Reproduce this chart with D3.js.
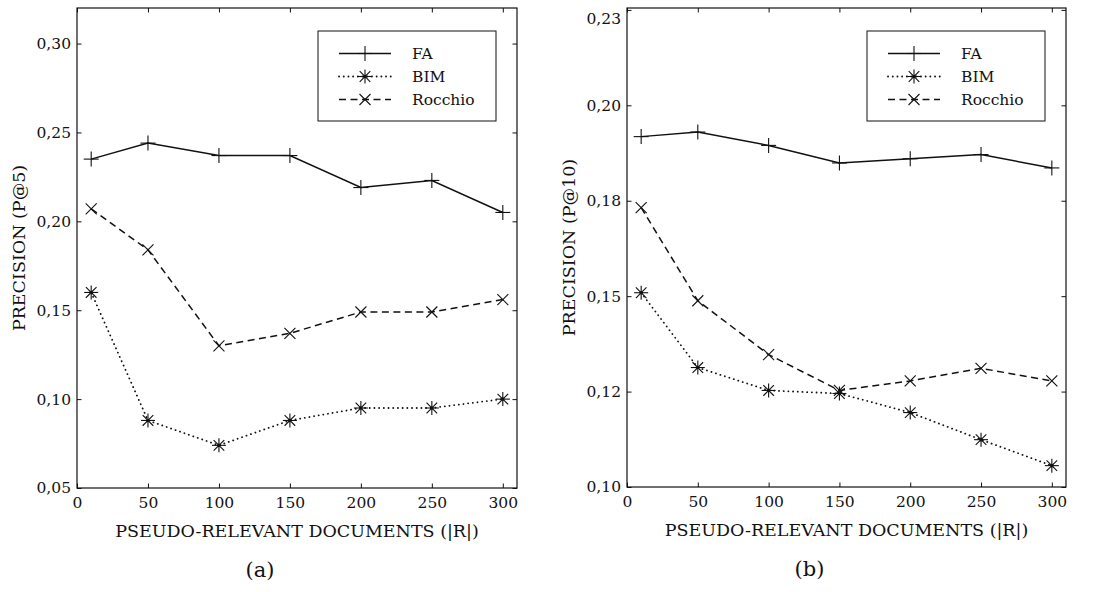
<!DOCTYPE html>
<html>
<head>
<meta charset="utf-8">
<script src="https://cdn.jsdelivr.net/npm/d3@7"></script>
<style>
  html, body { margin: 0; padding: 0; background: #fff; }
  svg { display: block; }
  text { font-family: "DejaVu Serif", serif; fill: #111; }
</style>
</head>
<body>
<svg id="chart" width="1101" height="592"></svg>
<script>
// ---- data ----
const xValues = [10, 50, 100, 150, 200, 250, 300];
const xTicks = [0, 50, 100, 150, 200, 250, 300];
const seriesNames = ["FA", "BIM", "Rocchio"];

const p5FA      = [0.235, 0.244, 0.237, 0.237, 0.219, 0.223, 0.205];
const p5BIM     = [0.160, 0.088, 0.074, 0.088, 0.095, 0.095, 0.100];
const p5Rocchio = [0.207, 0.184, 0.130, 0.137, 0.149, 0.149, 0.156];

const p10FA      = [0.1918, 0.1930, 0.1895, 0.1849, 0.1860, 0.1871, 0.1836];
const p10BIM     = [0.1509, 0.1313, 0.1253, 0.1245, 0.1195, 0.1124, 0.1056];
const p10Rocchio = [0.1732, 0.1488, 0.1347, 0.1253, 0.1278, 0.1311, 0.1278];

const p5Ticks = [0.05, 0.10, 0.15, 0.20, 0.25, 0.30];
const p5TickLabels = ["0,05", "0,10", "0,15", "0,20", "0,25", "0,30"];
const p10Ticks = [0.100, 0.125, 0.150, 0.175, 0.200, 0.225];
const p10TickLabels = ["0,10", "0,12", "0,15", "0,18", "0,20", "0,23"];

const xLabel = "PSEUDO-RELEVANT DOCUMENTS (|R|)";
const yLabels = ["PRECISION (P@5)", "PRECISION (P@10)"];
const panelLabels = ["(a)", "(b)"];

// ---- layout ----
const svg = d3.select("#chart");
const panels = [
  { left: 77, right: 517, top: 8, bottom: 488, yDomain: [0.05, 0.32],
    ticks: p5Ticks, tickLabels: p5TickLabels,
    series: [p5FA, p5BIM, p5Rocchio], yLabel: yLabels[0], tag: panelLabels[0] },
  { left: 627, right: 1066, top: 8, bottom: 487, yDomain: [0.10, 0.2255],
    ticks: p10Ticks, tickLabels: p10TickLabels,
    series: [p10FA, p10BIM, p10Rocchio], yLabel: yLabels[1], tag: panelLabels[1] }
];

const styles = [
  { dash: null, marker: "plus" },
  { dash: "0.1,4.6", marker: "aster" },
  { dash: "7,4.5", marker: "cross" }
];

function drawMarker(g, type, x, y) {
  const m = g.append("g").attr("transform", `translate(${x},${y})`)
    .attr("stroke", "#111").attr("stroke-width", 1.1).attr("fill", "none");
  if (type === "plus") {
    m.append("line").attr("x1", -7.5).attr("x2", 7.5).attr("y1", 0).attr("y2", 0);
    m.append("line").attr("x1", 0).attr("x2", 0).attr("y1", -7.5).attr("y2", 7.5);
  } else if (type === "cross") {
    const s = 5.5;
    m.append("line").attr("x1", -s).attr("x2", s).attr("y1", -s).attr("y2", s);
    m.append("line").attr("x1", -s).attr("x2", s).attr("y1", s).attr("y2", -s);
  } else {
    const s = 5.3, r = 7;
    m.append("line").attr("x1", -s).attr("x2", s).attr("y1", -s).attr("y2", s);
    m.append("line").attr("x1", -s).attr("x2", s).attr("y1", s).attr("y2", -s);
    m.append("line").attr("x1", -r).attr("x2", r).attr("y1", 0).attr("y2", 0);
    m.append("line").attr("x1", 0).attr("x2", 0).attr("y1", -r).attr("y2", r);
    m.append("circle").attr("r", 1.8).attr("fill", "#111").attr("stroke", "none");
  }
}

panels.forEach(p => {
  const x = d3.scaleLinear().domain([0, 310]).range([p.left, p.right]);
  const y = d3.scaleLinear().domain(p.yDomain).range([p.bottom, p.top]);
  const g = svg.append("g");

  // series lines
  p.series.forEach((vals, i) => {
    const pts = xValues.map((xv, j) => [x(xv), y(vals[j])]);
    const path = g.append("path")
      .attr("d", d3.line()(pts))
      .attr("fill", "none").attr("stroke", "#111")
      .attr("stroke-width", 1.5);
    if (styles[i].dash) {
      path.attr("stroke-dasharray", styles[i].dash);
      if (i === 1) path.attr("stroke-linecap", "round").attr("stroke-width", 1.8);
    }
    pts.forEach(pt => drawMarker(g, styles[i].marker, pt[0], pt[1]));
  });

  // axes (inward ticks on all sides)
  const tl = 4.5;
  const axB = d3.axisBottom(x).tickValues(xTicks).tickSize(-tl).tickPadding(9).tickFormat(d3.format("d"));
  const axT = d3.axisTop(x).tickValues(xTicks).tickSize(-tl).tickFormat("");
  const labelMap = new Map(p.ticks.map((t, i) => [t, p.tickLabels[i]]));
  const axL = d3.axisLeft(y).tickValues(p.ticks).tickSize(-tl).tickPadding(6).tickFormat(d => labelMap.get(d));
  const axR = d3.axisRight(y).tickValues(p.ticks).tickSize(-tl).tickFormat("");

  const gB = g.append("g").attr("transform", `translate(0,${p.bottom})`).call(axB);
  const gT = g.append("g").attr("transform", `translate(0,${p.top})`).call(axT);
  const gL = g.append("g").attr("transform", `translate(${p.left},0)`).call(axL);
  const gR = g.append("g").attr("transform", `translate(${p.right},0)`).call(axR);
  [gB, gT, gL, gR].forEach(a => {
    a.selectAll(".domain").remove();
    a.selectAll(".tick line").attr("stroke", "#111").attr("stroke-width", 1);
    a.selectAll("text").style("font-family", "DejaVu Serif").style("font-size", "15.5px").attr("fill", "#111");
  });
  // top tick label sits a little lower (as in the reference)
  gL.selectAll(".tick text").filter(d => d === p.ticks[p.ticks.length - 1] && p.yDomain[1] - d < 0.002).attr("dy", "0.85em");

  // frame
  g.append("rect").attr("x", p.left).attr("y", p.top)
    .attr("width", p.right - p.left).attr("height", p.bottom - p.top)
    .attr("fill", "none").attr("stroke", "#111").attr("stroke-width", 1.2);

  // axis titles
  const cx = (p.left + p.right) / 2;
  g.append("text").attr("x", cx).attr("y", p.bottom + 49)
    .attr("text-anchor", "middle").style("font-size", "17.5px").text(xLabel);
  g.append("text")
    .attr("transform", `translate(${p.left - 52},${(p.top + p.bottom) / 2}) rotate(-90)`)
    .attr("text-anchor", "middle").style("font-size", "17.5px").text(p.yLabel);
  g.append("text").attr("x", cx - 37).attr("y", p.bottom + 89)
    .attr("text-anchor", "middle").style("font-size", "21px").text(p.tag);

  // legend
  const lx = p.right - 199, ly = p.top + 23;
  const lg = g.append("g");
  lg.append("rect").attr("x", lx).attr("y", ly).attr("width", 178).attr("height", 90)
    .attr("fill", "#fff").attr("stroke", "#111").attr("stroke-width", 1);
  seriesNames.forEach((name, i) => {
    const ry = ly + 22.5 + i * 23;
    const ln = lg.append("line").attr("x1", lx + 21).attr("x2", lx + 73)
      .attr("y1", ry).attr("y2", ry).attr("stroke", "#111").attr("stroke-width", 1.5);
    if (styles[i].dash) {
      ln.attr("stroke-dasharray", styles[i].dash);
      if (i === 1) ln.attr("stroke-linecap", "round").attr("stroke-width", 1.8);
    }
    drawMarker(lg, styles[i].marker, lx + 47, ry);
    lg.append("text").attr("x", lx + 94).attr("y", ry).attr("dy", "0.35em")
      .style("font-size", "15.5px").text(name);
  });
});
</script>
</body>
</html>
